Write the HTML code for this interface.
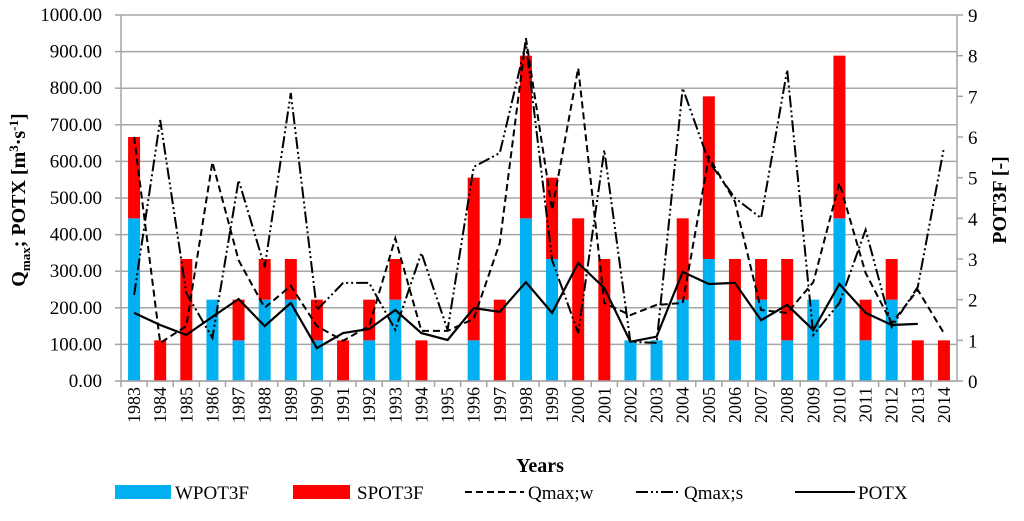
<!DOCTYPE html>
<html><head><meta charset="utf-8"><style>
body{margin:0;background:#fff}
svg{display:block}
svg text{font-family:"Liberation Serif","Times New Roman",serif}
</style></head><body>
<svg id="chart" width="1024" height="521" viewBox="0 0 1024 521" xmlns="http://www.w3.org/2000/svg" font-family="Liberation Serif, serif">
<g id="grid"></g>
<g id="bars"></g>
<g id="lines"></g>
<g id="axes"></g>
<text transform="translate(25,200) rotate(-90)" text-anchor="middle" font-size="20" font-weight="bold">Q<tspan font-size="13" dy="5">max</tspan><tspan dy="-5">; POTX [m</tspan><tspan font-size="13" dy="-7">3</tspan><tspan dy="7">·s</tspan><tspan font-size="13" dy="-7">-1</tspan><tspan dy="7">]</tspan></text>
<text transform="translate(1006,200) rotate(-90)" text-anchor="middle" font-size="20" font-weight="bold">POT3F [-]</text>
<text x="540" y="472" text-anchor="middle" font-size="20" font-weight="bold">Years</text>
<g font-size="19">
 <g><rect x="115" y="485" width="56" height="14" fill="#00b0f0"/><text x="175" y="499">WPOT3F</text></g>
 <g><rect x="293" y="485" width="57" height="14" fill="#ff0000"/><text x="357" y="499">SPOT3F</text></g>
 <g><line x1="465" y1="492" x2="524" y2="492" stroke="#000" stroke-width="2" stroke-dasharray="7,4"/><text x="528" y="499">Qmax;w</text></g>
 <g><line x1="636" y1="492" x2="681" y2="492" stroke="#000" stroke-width="2" stroke-dasharray="12,3,2,3,2,3"/><text x="684" y="499">Qmax;s</text></g>
 <g><line x1="795" y1="492" x2="855" y2="492" stroke="#000" stroke-width="2"/><text x="858" y="499">POTX</text></g>
</g>
</svg>
<script>
const years=[1983,1984,1985,1986,1987,1988,1989,1990,1991,1992,1993,1994,1995,1996,1997,1998,1999,2000,2001,2002,2003,2004,2005,2006,2007,2008,2009,2010,2011,2012,2013,2014];
const wpot3f=[4,0,0,2,1,2,2,1,0,1,2,0,0,1,0,4,3,0,0,1,1,2,3,1,2,1,2,4,1,2,0,0];
const spot3f=[2,1,3,0,1,1,1,1,1,1,1,1,0,4,2,4,2,4,3,0,0,2,4,2,1,2,0,4,1,1,1,1];
const qmaxW=[667,104,150,598,330,200,260,150,110,150,390,137,137,170,377,937,467,855,213,180,208,213,612,490,194,186,270,541,295,158,249,131];
const qmaxS=[235,713,240,118,549,311,787,194,268,268,140,350,140,585,623,923,330,131,631,107,104,800,600,500,445,850,126,213,413,148,257,637];
const potx=[186,153,126,175,224,150,213,90,131,142,194,131,112,199,189,270,186,322,254,107,121,298,265,268,166,208,139,265,186,153,156,null];
const leftTicks=["0.00","100.00","200.00","300.00","400.00","500.00","600.00","700.00","800.00","900.00","1000.00"];
const rightTicks=["0","1","2","3","4","5","6","7","8","9"];

const NS="http://www.w3.org/2000/svg";
const X0=121,X1=957,Y0=381,Y1=15;
const cw=(X1-X0)/years.length;
const xc=i=>X0+cw*(i+0.5);
const yL=v=>Y0-(v/1000)*(Y0-Y1);
const yR=v=>Y0-(v/9)*(Y0-Y1);
function mk(tag,attrs,parent){const e=document.createElementNS(NS,tag);for(const k in attrs)e.setAttribute(k,attrs[k]);parent.appendChild(e);return e;}
const grid=document.getElementById('grid'),bars=document.getElementById('bars'),lines=document.getElementById('lines'),axes=document.getElementById('axes');
leftTicks.forEach((t,i)=>{
  const v=i*100,y=yL(v);
  const g=mk('line',{x1:X0,x2:X1,y1:y,y2:y,stroke:'#a6a6a6','stroke-width':1.5},grid);
  
  
  const tk=mk('line',{x1:X0-6,x2:X0,y1:y,y2:y,stroke:'#a6a6a6','stroke-width':1.5},axes);
  
  
  const tx=mk('text',{x:102,y:y+6,'text-anchor':'end','font-size':19},axes);
  tx.textContent=t;
  
  
});
rightTicks.forEach((t,i)=>{
  const y=yR(i);
  const tk=mk('line',{x1:X1,x2:X1+6,y1:y,y2:y,stroke:'#a6a6a6','stroke-width':1.5},axes);
  
  
  const tx=mk('text',{x:968,y:y+7,'font-size':19},axes);
  tx.textContent=t;
  
  
});
const al=mk('line',{x1:X0,x2:X0,y1:Y1,y2:Y0,stroke:'#a6a6a6','stroke-width':1.5},axes);


const ar=mk('line',{x1:X1,x2:X1,y1:Y1,y2:Y0,stroke:'#a6a6a6','stroke-width':1.5},axes);


years.forEach((yr,i)=>{
  const bw=12,x=xc(i)-bw/2;
  if(wpot3f[i]>0){const r=mk('rect',{x:x,y:yR(wpot3f[i]),width:bw,height:Y0-yR(wpot3f[i]),fill:'#00b0f0'},bars);
    
    }
  if(spot3f[i]>0){const top=yR(wpot3f[i]+spot3f[i]),bot=yR(wpot3f[i]);
    const r=mk('rect',{x:x,y:top,width:bw,height:bot-top,fill:'#ff0000'},bars);
    
    }
  const tk=mk('line',{x1:X0+cw*i,x2:X0+cw*i,y1:Y0,y2:Y0+6,stroke:'#a6a6a6','stroke-width':1.5},axes);
  
  
  const tx=mk('text',{transform:`translate(${xc(i)+6},${Y0+6}) rotate(-90)`,'text-anchor':'end','font-size':18},axes);
  tx.textContent=yr;
  
  
});
const xa=mk('line',{x1:X0,x2:X1,y1:Y0,y2:Y0,stroke:'#a6a6a6','stroke-width':1.5},axes);


function path(arr){let d='';arr.forEach((v,i)=>{if(v==null)return;d+=(d?'L':'M')+xc(i).toFixed(1)+','+yL(v).toFixed(1);});return d;}
const lw=mk('path',{d:path(qmaxW),fill:'none',stroke:'#000','stroke-width':2,'stroke-dasharray':'7,4'},lines);


const ls=mk('path',{d:path(qmaxS),fill:'none',stroke:'#000','stroke-width':2,'stroke-dasharray':'12,3,2,3,2,3'},lines);


const lp=mk('path',{d:path(potx),fill:'none',stroke:'#000','stroke-width':2.2},lines);


</script>
</body></html>
